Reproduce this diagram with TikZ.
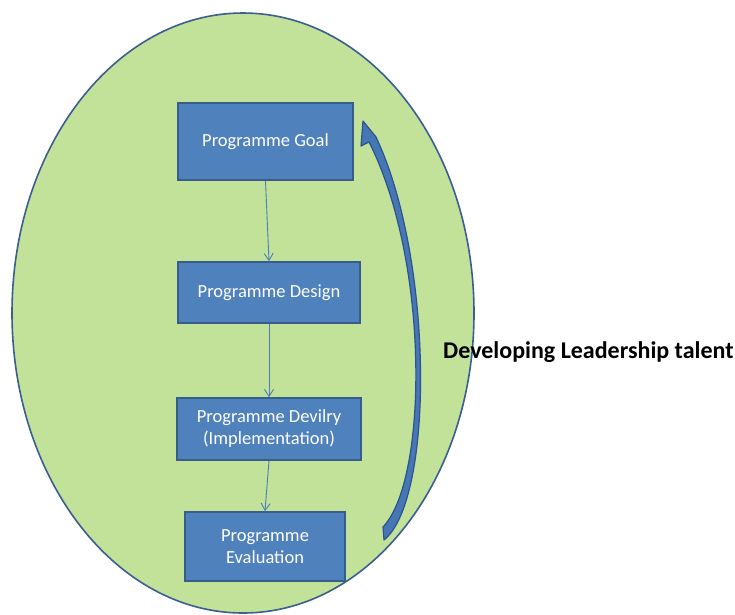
\documentclass[tikz,border=0pt]{standalone}
\usepackage{fontspec}
\setmainfont{Carlito}
\usetikzlibrary{arrows.meta,shapes.geometric}
\definecolor{ellfill}{HTML}{C2E29A}
\definecolor{ellline}{HTML}{3A5E91}
\definecolor{boxfill}{HTML}{4F81BD}
\definecolor{boxline}{HTML}{385D8A}
\definecolor{arrline}{HTML}{4A7EBB}
\definecolor{curvfill}{HTML}{4677B5}
\definecolor{curvline}{HTML}{2F528F}
\tikzset{
  stepbox/.style={draw=boxline, line width=1.6pt, fill=boxfill, text=white, align=center,
    font=\fontsize{18.5}{22}\selectfont, inner sep=0pt},
  flow/.style={draw=arrline, line width=0.9pt, -{Straight Barb[length=7pt,width=9pt]}}
}
\begin{document}
\begin{tikzpicture}[x=1pt,y=-1pt]
\useasboundingbox (0,0) rectangle (735,614);
\node[ellipse, draw=ellline, line width=1.6pt, fill=ellfill, minimum width=462pt, minimum height=600pt, inner sep=0pt] (ell) at (243,313) {};
\node[stepbox, minimum width=175pt, minimum height=77pt] (goal) at (265.5,141.5) {Programme Goal};
\node[stepbox, minimum width=182pt, minimum height=61pt] (design) at (269,292.5) {Programme Design};
\node[stepbox, minimum width=184pt, minimum height=62pt] (deliv) at (269,429) {Programme Devilry\\(Implementation)};
\node[stepbox, minimum width=160pt, minimum height=69pt] (eval) at (265,546.5) {Programme\\Evaluation};
\draw[flow] (goal.south) -- (design.north);
\draw[flow] (design.south) -- (deliv.north);
\draw[flow] (deliv.south) -- (eval.north);
\coordinate (tailL) at (383,527);
\coordinate (tailR) at (384,540);
\coordinate (tip) at (363,121);
\filldraw[fill=curvfill, draw=curvline, line width=1.2pt, line join=round]
  (tailR)
  .. controls (434,500) and (434,260) .. (376,137)
  -- (tip) -- (361,146) -- (369,142)
  .. controls (430,262) and (428,480) .. (tailL) -- cycle;
\node[anchor=west, font=\fontsize{24}{28}\selectfont\bfseries, inner sep=0pt] (lbl) at (443,352) {Developing Leadership talent};
\end{tikzpicture}
\end{document}
